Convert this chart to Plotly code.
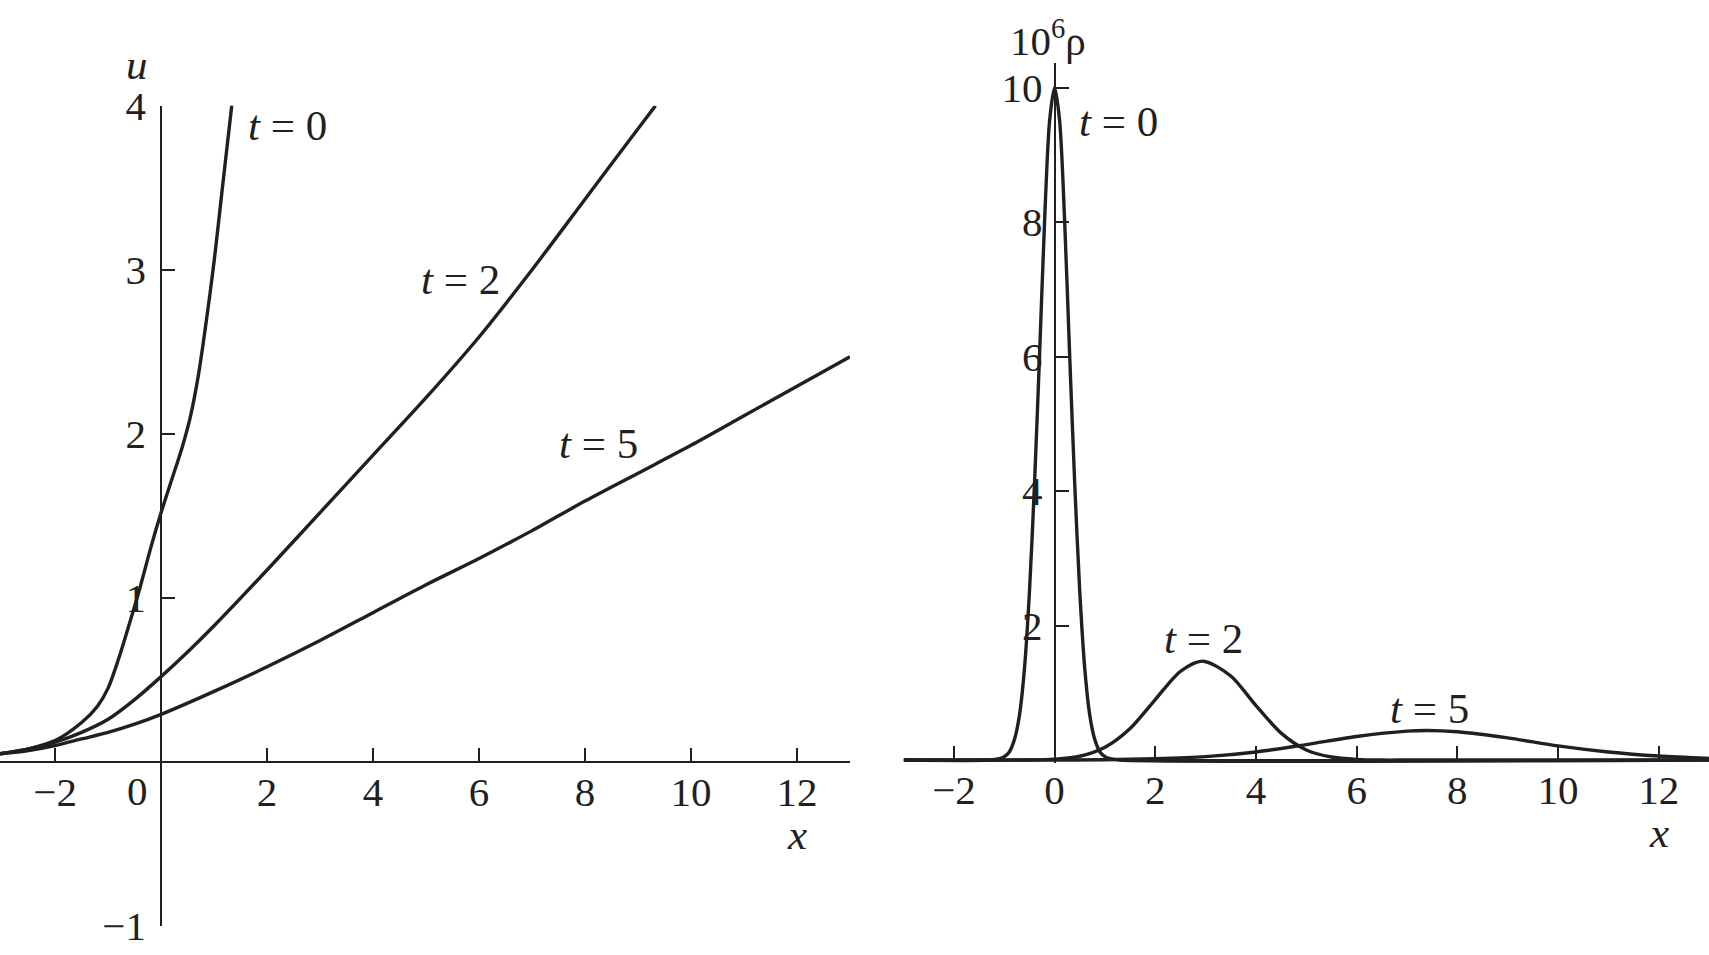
import plotly.graph_objects as go

# ---------------- data ----------------
# Left panel: u(x) for t = 0, 2, 5
u_t0_x = [-3.04, -2.5, -2.0, -1.5, -1.2, -1.0, -0.8, -0.6, -0.4, -0.2, 0.0, 0.2, 0.4, 0.55, 0.7, 0.85, 1.0, 1.15, 1.34]
u_t0_y = [0.05, 0.08, 0.13, 0.24, 0.34, 0.45, 0.63, 0.84, 1.06, 1.30, 1.52, 1.72, 1.92, 2.10, 2.35, 2.68, 3.05, 3.48, 4.02]

u_t2_x = [-3.04, -2.5, -2.0, -1.5, -1.0, -0.5, 0.0, 0.5, 1.0, 2.0, 3.0, 4.0, 5.0, 6.0, 7.0, 8.0, 9.0, 9.33]
u_t2_y = [0.05, 0.08, 0.12, 0.18, 0.26, 0.38, 0.52, 0.67, 0.83, 1.17, 1.52, 1.87, 2.22, 2.59, 3.00, 3.43, 3.86, 4.00]

u_t5_x = [-3.04, -2.5, -2.0, -1.5, -1.0, -0.5, 0.0, 1.0, 2.0, 3.0, 4.0, 5.0, 6.0, 7.0, 8.0, 9.0, 10.0, 11.0, 12.0, 13.0]
u_t5_y = [0.05, 0.07, 0.10, 0.14, 0.18, 0.23, 0.29, 0.43, 0.58, 0.74, 0.91, 1.08, 1.24, 1.41, 1.59, 1.76, 1.93, 2.11, 2.29, 2.47]

# Right panel: 10^6 rho(x) for t = 0, 2, 5
r_t0_x = [-3.0, -1.3, -1.1, -1.0, -0.9, -0.8, -0.7, -0.6, -0.5, -0.4, -0.3, -0.2, -0.1, 0.0,
          0.1, 0.2, 0.3, 0.4, 0.5, 0.6, 0.7, 0.8, 0.9, 1.0, 1.1, 1.3, 13.0]
r_t0_y = [0.0, 0.0, 0.02, 0.05, 0.12, 0.30, 0.66, 1.35, 2.5, 4.1, 6.0, 8.0, 9.5, 10.0,
          9.5, 8.0, 6.0, 4.1, 2.5, 1.35, 0.66, 0.30, 0.12, 0.05, 0.02, 0.0, 0.0]

r_t2_x = [-3.0, -0.5, 0.0, 0.5, 1.0, 1.5, 2.0, 2.5, 2.95, 3.5, 4.0, 4.5, 5.0, 5.5, 6.0, 6.5, 7.0, 13.0]
r_t2_y = [0.0, 0.0, 0.013, 0.056, 0.19, 0.47, 0.90, 1.32, 1.47, 1.25, 0.81, 0.40, 0.15, 0.045, 0.01, 0.0, 0.0, 0.0]

r_t5_x = [-3.0, 0.0, 1.0, 2.0, 3.0, 4.0, 5.0, 6.0, 7.0, 7.4, 8.0, 9.0, 10.0, 11.0, 12.0, 13.0]
r_t5_y = [0.0, 0.0, 0.005, 0.02, 0.05, 0.12, 0.23, 0.35, 0.43, 0.44, 0.42, 0.33, 0.21, 0.12, 0.06, 0.025]

# tick labels
left_xticks = [-2, 2, 4, 6, 8, 10, 12]
left_yticks = [-1, 1, 2, 3, 4]
right_xticks = [-2, 0, 2, 4, 6, 8, 10, 12]
right_yticks = [2, 4, 6, 8, 10]

# ---------------- style ----------------
INK = "#231f20"
FONT = "Liberation Serif"
FS_TICK = 41
FS_TEXT = 43
W, H = 1709, 955

def lab(v):
    return str(v).replace("-", "\u2212")

# axis geometry (domains in paper fractions)
L_xr, L_xd = [-3.04, 13.0], [0.0, 850 / W]
L_yr, L_yd = [-1.0, 4.0], [(H - 926) / H, (H - 105.7) / H]
R_xr, R_xd = [-3.0, 13.0], [903.6 / W, 1.0]
R_yr, R_yd = [-0.05, 10.36], [(H - 763.4) / H, (H - 63.3) / H]

def pos(val, rng, dom):
    return dom[0] + (val - rng[0]) / (rng[1] - rng[0]) * (dom[1] - dom[0])

fig = go.Figure()
line = dict(color=INK, width=3.4, shape="spline", smoothing=0.8)
for xs, ys in [(u_t0_x, u_t0_y), (u_t2_x, u_t2_y), (u_t5_x, u_t5_y)]:
    fig.add_trace(go.Scatter(x=xs, y=ys, mode="lines", line=line, xaxis="x", yaxis="y",
                             showlegend=False, hoverinfo="skip"))
for xs, ys in [(r_t0_x, r_t0_y), (r_t2_x, r_t2_y), (r_t5_x, r_t5_y)]:
    fig.add_trace(go.Scatter(x=xs, y=ys, mode="lines", line=line, xaxis="x2", yaxis="y2",
                             showlegend=False, hoverinfo="skip"))

axis_common = dict(showgrid=False, zeroline=False, showline=True, linecolor=INK, linewidth=2,
                   ticks="inside", ticklen=13, tickwidth=2, tickcolor=INK, automargin=False,
                   tickfont=dict(family=FONT, size=FS_TICK, color=INK), fixedrange=True)

fig.update_layout(
    template="none",
    width=W, height=H, autosize=False,
    margin=dict(l=0, r=0, t=0, b=0, pad=0),
    paper_bgcolor="white", plot_bgcolor="white",
    font=dict(family=FONT, color=INK),
    xaxis=dict(axis_common, range=L_xr, domain=L_xd, anchor="free",
               position=pos(0, L_yr, L_yd), tickvals=left_xticks,
               ticktext=[lab(v) for v in left_xticks], ticklabelstandoff=-6),
    yaxis=dict(axis_common, range=L_yr, domain=L_yd, anchor="free",
               position=pos(0, L_xr, L_xd), tickvals=left_yticks,
               ticktext=[lab(v) for v in left_yticks], ticklabelstandoff=6),
    xaxis2=dict(axis_common, range=R_xr, domain=R_xd, anchor="free",
                position=pos(0, R_yr, R_yd), tickvals=right_xticks,
                ticktext=[lab(v) for v in right_xticks], ticklabelstandoff=-6),
    yaxis2=dict(axis_common, range=R_yr, domain=R_yd, anchor="free",
                position=pos(0, R_xr, R_xd), tickvals=right_yticks,
                ticktext=[lab(v) for v in right_yticks], ticklabelstandoff=3),
)

tf = dict(family=FONT, size=FS_TEXT, color=INK)
tk = dict(family=FONT, size=FS_TICK, color=INK)
ann = [
    # left panel
    dict(x=-0.44, y=-0.18, xref="x", yref="y", text="0", xanchor="center", yanchor="middle", font=tk),
    dict(x=150 / W, y=(H - 64) / H, xref="paper", yref="paper", text="<i>u</i>",
         xanchor="right", yanchor="middle", font=tf),
    dict(x=12.0, y=-0.44, xref="x", yref="y", text="<i>x</i>", xanchor="center", yanchor="middle", font=tf),
    dict(x=1.60, y=3.88, xref="x", yref="y", text="<i>t</i> = 0", xanchor="left", yanchor="middle", font=tf),
    dict(x=5.65, y=2.94, xref="x", yref="y", text="<i>t</i> = 2", xanchor="center", yanchor="middle", font=tf),
    dict(x=8.25, y=1.94, xref="x", yref="y", text="<i>t</i> = 5", xanchor="center", yanchor="middle", font=tf),
    # right panel
    dict(x=1008 / W, y=(H - 38) / H, xref="paper", yref="paper", text="10<sup>6</sup>\u03c1",
         xanchor="left", yanchor="middle", font=tk),
    dict(x=pos(12, R_xr, R_xd), y=(H - 833) / H, xref="paper", yref="paper", text="<i>x</i>",
         xanchor="center", yanchor="middle", font=tf),
    dict(x=1.27, y=9.50, xref="x2", yref="y2", text="<i>t</i> = 0", xanchor="center", yanchor="middle", font=tf),
    dict(x=2.96, y=1.80, xref="x2", yref="y2", text="<i>t</i> = 2", xanchor="center", yanchor="middle", font=tf),
    dict(x=7.44, y=0.76, xref="x2", yref="y2", text="<i>t</i> = 5", xanchor="center", yanchor="middle", font=tf),
]
for a in ann:
    a.update(showarrow=False)
fig.update_layout(annotations=ann)

fig.write_html("out.html", config={"displayModeBar": False, "staticPlot": True},
               post_script="document.body.style.margin='0';document.body.style.overflow='hidden';")
